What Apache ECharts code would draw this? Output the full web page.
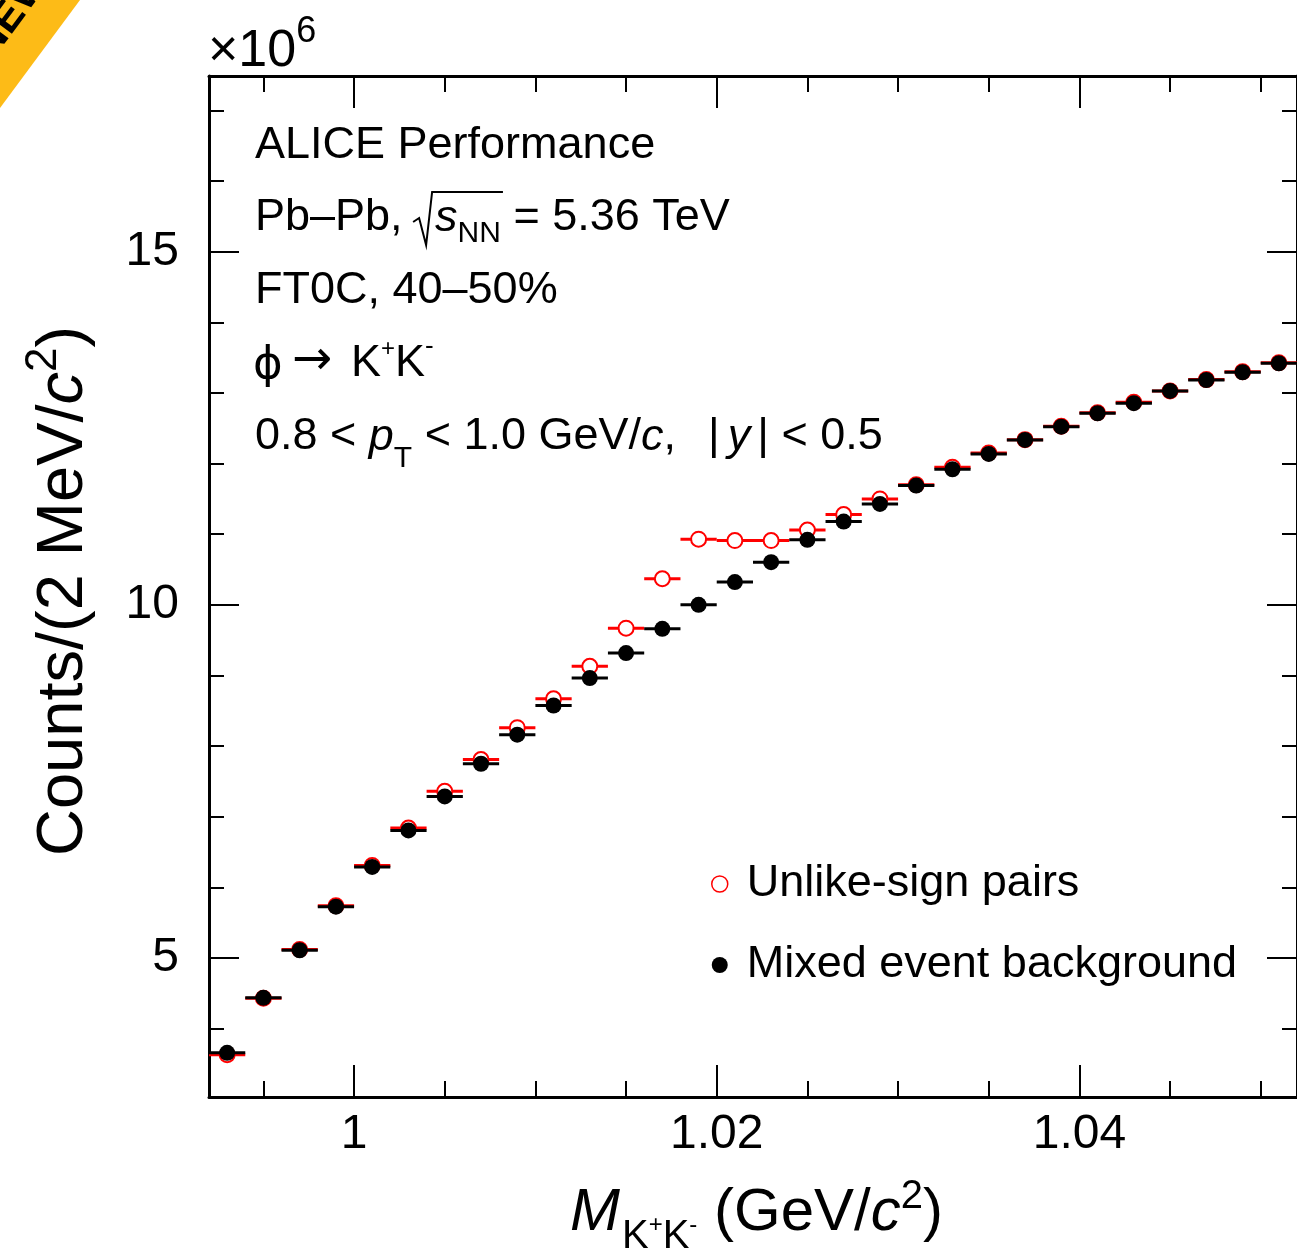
<!DOCTYPE html>
<html>
<head>
<meta charset="utf-8">
<title>phi to K+K- invariant mass</title>
<script src="https://cdn.jsdelivr.net/npm/echarts@6/dist/echarts.min.js"></script>
<style>
  html, body { margin: 0; padding: 0; background: #ffffff; }
  #chart { width: 1297px; height: 1257px; }
</style>
</head>
<body>
<div id="chart"></div>
<script>
// K+K- invariant mass bin centres (GeV/c^2), 2 MeV wide bins
const massBins = [0.993, 0.995, 0.997, 0.999, 1.001, 1.003, 1.005, 1.007, 1.009, 1.011,
                  1.013, 1.015, 1.017, 1.019, 1.021, 1.023, 1.025, 1.027, 1.029, 1.031,
                  1.033, 1.035, 1.037, 1.039, 1.041, 1.043, 1.045, 1.047, 1.049, 1.051];
const binHalfWidth = 0.001;

// Counts per bin, in units of 10^6
const unlikeSign = [3.63, 4.43, 5.12, 5.74, 6.31, 6.84, 7.36, 7.81, 8.26, 8.67,
                    9.13, 9.67, 10.37, 10.93, 10.91, 10.91, 11.06, 11.28, 11.50, 11.70,
                    11.95, 12.15, 12.34, 12.53, 12.72, 12.87, 13.03, 13.19, 13.30, 13.43];
const mixedEvent = [3.655, 4.434, 5.108, 5.726, 6.288, 6.806, 7.287, 7.750, 8.161, 8.575,
                    8.963, 9.317, 9.661, 10.00, 10.322, 10.605, 10.921, 11.18, 11.43, 11.689,
                    11.921, 12.138, 12.336, 12.524, 12.714, 12.856, 13.03, 13.185, 13.294, 13.422];

// Axis ticks
const xMajorTicks = [1, 1.02, 1.04];
const xMinorTicks = [0.995, 1.005, 1.01, 1.015, 1.025, 1.03, 1.035, 1.045, 1.05];
const yMajorTicks = [5, 10, 15];
const yMinorTicks = [4, 6, 7, 8, 9, 11, 12, 13, 14, 16, 17];

const X_MIN = 0.992, X_MAX = 1.052;
const Y_MIN = 3.03, Y_MAX = 17.49;

const FONT = '"Liberation Sans", Arial, Helvetica, sans-serif';
const RED = '#ff0000';

function xAxisDef(position, ticks, len, labels, line) {
  return {
    type: 'value', position: position, min: X_MIN, max: X_MAX,
    axisLine: { show: line, onZero: false, lineStyle: { color: '#000', width: 3 } },
    axisTick: { show: true, inside: true, length: len, customValues: ticks,
                lineStyle: { color: '#000', width: 2 } },
    axisLabel: labels ? { show: true, customValues: ticks, fontSize: 48, fontFamily: FONT,
                          color: '#000', margin: 14 } : { show: false },
    splitLine: { show: false }
  };
}
function yAxisDef(position, ticks, len, labels, line) {
  return {
    type: 'value', position: position, min: Y_MIN, max: Y_MAX,
    axisLine: { show: line, onZero: false, lineStyle: { color: '#000', width: 3 } },
    axisTick: { show: true, inside: true, length: len, customValues: ticks,
                lineStyle: { color: '#000', width: 2 } },
    axisLabel: labels ? { show: true, customValues: ticks, fontSize: 48, fontFamily: FONT,
                          color: '#000', margin: 30 } : { show: false },
    splitLine: { show: false }
  };
}

// Horizontal bin-width bars drawn through the axis scales
function binBars(name, values, color, z) {
  return {
    type: 'custom', name: name, xAxisIndex: 0, yAxisIndex: 0, z: z, silent: true,
    data: massBins.map((m, i) => [m, values[i]]),
    renderItem: function (params, api) {
      const m = api.value(0), v = api.value(1);
      const a = api.coord([m - binHalfWidth, v]);
      const b = api.coord([m + binHalfWidth, v]);
      return { type: 'line', shape: { x1: a[0], y1: a[1], x2: b[0], y2: b[1] },
               style: { stroke: color, lineWidth: 3 } };
    }
  };
}

// Simple run-based text layout (sub/superscripts, italics)
const measure = document.createElement('canvas').getContext('2d');
function fnt(size, italic, family) {
  return (italic ? 'italic ' : '') + size + 'px ' + (family || FONT);
}
function tw(r) { measure.font = fnt(r.s, r.i, r.f); return measure.measureText(r.t).width; }
function place(runs, x0, y0, out) {
  let x = x0;
  for (const r of runs) {
    x += r.dx || 0;
    out.push({ type: 'text', x: x, y: y0 + (r.dy || 0), silent: true, z: 100,
               style: { text: r.t, font: fnt(r.s, r.i, r.f), fill: '#000',
                        align: 'left', verticalAlign: 'middle' } });
    x += tw(r);
  }
  return x;
}

const S = 45;
const els = [];

// Corner ribbon
els.push({ type: 'polygon', silent: true, z: 100,
           shape: { points: [[0, 0], [80, 0], [0, 108]] }, style: { fill: '#FDBB17' } });
els.push({ type: 'text', x: 12, y: 14, rotation: 0.934, silent: true, z: 101,
           style: { text: 'NEW', font: 'bold 42px ' + FONT, fill: '#000',
                    align: 'center', verticalAlign: 'middle' } });

// Exponent above the y axis
place([{ t: '×10', s: 52 }, { t: '6', s: 36, dy: -20 }], 208, 52, els);

// Header lines
place([{ t: 'ALICE Performance', s: S }], 255, 146, els);

let x = place([{ t: 'Pb–Pb, ', s: S }], 255, 218, els);
const rx = x - 2;
const xs = place([{ t: 's', s: S, i: true, dx: 22 }, { t: 'NN', s: 30, dy: 16 }], rx, 218, els);
els.push({ type: 'polyline', silent: true, z: 100,
           shape: { points: [[rx, 222], [rx + 6, 218], [rx + 13, 245], [rx + 19, 192], [xs + 2, 192]] },
           style: { stroke: '#000', lineWidth: 2, fill: null } });
place([{ t: ' = 5.36 TeV', s: S }], xs, 218, els);

place([{ t: 'FT0C, 40–50%', s: S }], 255, 291, els);

place([{ t: 'ϕ', s: S, f: '"DejaVu Sans", ' + FONT }], 253, 366, els);
place([{ t: '→', s: 48, f: '"DejaVu Sans", ' + FONT }], 292, 362, els);
place([{ t: 'K', s: S }, { t: '+', s: 24, dy: -15 },
       { t: 'K', s: S }, { t: '-', s: 26, dy: -17 }], 351, 364, els);

place([{ t: '0.8 < ', s: S }, { t: 'p', s: S, i: true }, { t: 'T', s: 30, dy: 22 },
       { t: ' < 1.0 GeV/', s: S }, { t: 'c', s: S, i: true }, { t: ',', s: S },
       { t: '|', s: S, dx: 32 }, { t: 'y', s: S, i: true, dx: 8 }, { t: '|', s: S, dx: 7 },
       { t: ' < 0.5', s: S }], 255, 437, els);

// Axis titles
place([{ t: 'M', s: 60, i: true }, { t: 'K', s: 40, dy: 24, dx: 2 }, { t: '+', s: 24, dy: 12 },
       { t: 'K', s: 40, dy: 24 }, { t: '-', s: 24, dy: 12 },
       { t: ' (GeV/', s: 60 }, { t: 'c', s: 60, i: true }, { t: '2', s: 40, dy: -16 },
       { t: ')', s: 60 }], 570, 1213, els);

const yTitle = [];
place([{ t: 'Counts/(2 MeV/', s: 65 }, { t: 'c', s: 65, i: true }, { t: '2', s: 44, dy: -20 },
       { t: ')', s: 65 }], 0, 0, yTitle);
els.push({ type: 'group', x: 64, y: 856, rotation: Math.PI / 2, children: yTitle });

const chart = echarts.init(document.getElementById('chart'), null, { renderer: 'canvas' });
chart.setOption({
  animation: false,
  backgroundColor: '#ffffff',
  textStyle: { fontFamily: FONT, color: '#000' },
  grid: { left: 209, top: 76, right: -4, bottom: 160, containLabel: false },
  xAxis: [
    xAxisDef('bottom', xMajorTicks, 32, true, true),
    xAxisDef('bottom', xMinorTicks, 16, false, false),
    xAxisDef('top', xMajorTicks, 32, false, true),
    xAxisDef('top', xMinorTicks, 16, false, false)
  ],
  yAxis: [
    yAxisDef('left', yMajorTicks, 30, true, true),
    yAxisDef('left', yMinorTicks, 15, false, false),
    yAxisDef('right', yMajorTicks, 30, false, true),
    yAxisDef('right', yMinorTicks, 15, false, false)
  ],
  legend: {
    orient: 'vertical', left: 706, top: 851, itemWidth: 16, itemHeight: 16, itemGap: 25,
    selectedMode: false,
    textStyle: { fontSize: 45, fontFamily: FONT, color: '#000', lineHeight: 56, padding: [0, 0, 0, 14] },
    data: [
      { name: 'Unlike-sign pairs', icon: 'circle',
        itemStyle: { color: '#ffffff', borderColor: RED, borderWidth: 1.5 } },
      { name: 'Mixed event background', icon: 'circle', itemStyle: { color: '#000000' } }
    ]
  },
  series: [
    binBars('unlike-bins', unlikeSign, RED, 2),
    {
      type: 'scatter', name: 'Unlike-sign pairs', xAxisIndex: 0, yAxisIndex: 0, z: 3, silent: true,
      data: massBins.map((m, i) => [m, unlikeSign[i]]),
      symbol: 'circle', symbolSize: 15,
      itemStyle: { color: '#ffffff', borderColor: RED, borderWidth: 2, opacity: 1 }
    },
    binBars('mixed-bins', mixedEvent, '#000000', 4),
    {
      type: 'scatter', name: 'Mixed event background', xAxisIndex: 0, yAxisIndex: 0, z: 5, silent: true,
      data: massBins.map((m, i) => [m, mixedEvent[i]]),
      symbol: 'circle', symbolSize: 16,
      itemStyle: { color: '#000000', opacity: 1 }
    }
  ],
  graphic: els
});
</script>
</body>
</html>
